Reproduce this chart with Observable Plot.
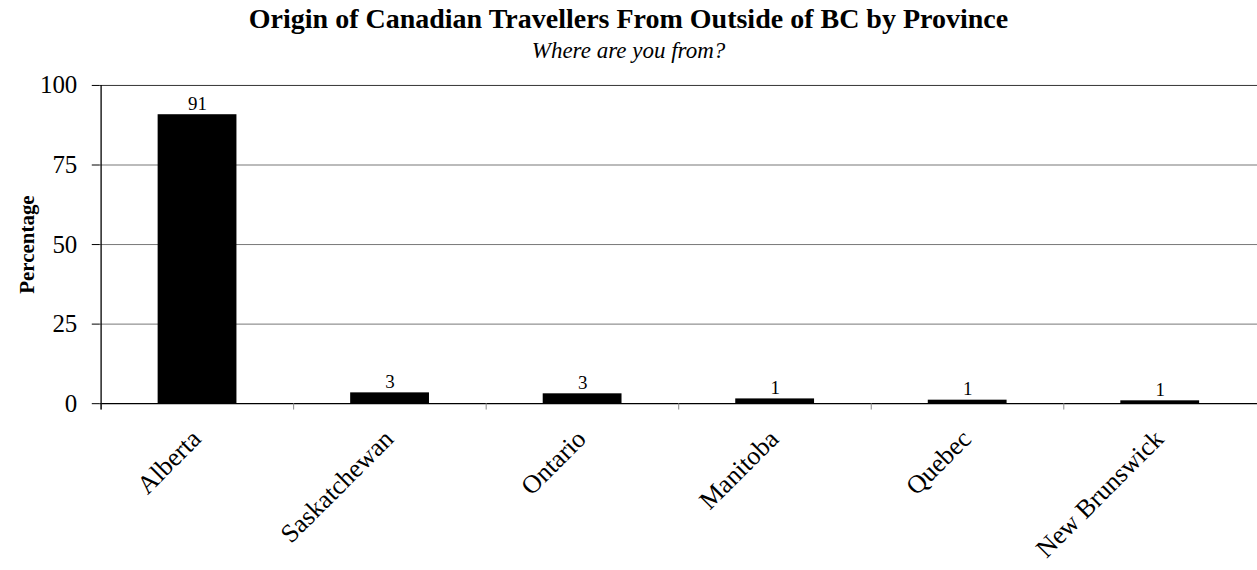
<!DOCTYPE html>
<html>
<head>
<meta charset="utf-8">
<script src="https://cdn.jsdelivr.net/npm/d3@7"></script>
<script src="https://cdn.jsdelivr.net/npm/@observablehq/plot@0.6"></script>
<style>
  html, body { margin: 0; padding: 0; background: #fff; overflow: hidden; }
  #wrap { position: relative; width: 1257px; height: 570px; overflow: hidden; font-family: "Liberation Serif", serif; }
  #header { position: relative; height: 62px; }
  #title { position: absolute; left: 0; width: 1257px; top: 3px; text-align: center; font-weight: bold; font-size: 28px; line-height: 32px; color: #000; white-space: nowrap; }
  #subtitle { position: absolute; left: 0; width: 1257px; top: 38px; text-align: center; font-style: italic; font-size: 23px; line-height: 26px; color: #000; white-space: nowrap; }
  #chart svg { display: block; }
</style>
</head>
<body>
<div id="wrap">
  <div id="header">
    <div id="title">Origin of Canadian Travellers From Outside of BC by Province</div>
    <div id="subtitle">Where are you from?</div>
  </div>
  <div id="chart"></div>
</div>
<script>
const provinces = ["Alberta", "Saskatchewan", "Ontario", "Manitoba", "Quebec", "New Brunswick"];
const percentages = [90.8, 3.4, 3.1, 1.5, 1.1, 0.9];
const valueLabels = ["91", "3", "3", "1", "1", "1"];
const yTicks = [0, 25, 50, 75, 100];
const gridValues = [25, 50, 75, 100];
const yLabel = "Percentage";

const data = provinces.map((p, i) => ({province: p, pct: percentages[i], label: valueLabels[i]}));
const step = 1160 / provinces.length;

const chart = Plot.plot({
  width: 1260,
  height: 508,
  marginLeft: 100,
  marginRight: 0,
  marginTop: 23,
  marginBottom: 166,
  style: {fontFamily: "'Liberation Serif', serif", color: "#000", background: "#fff"},
  x: {type: "band", domain: provinces, paddingInner: 0.59, paddingOuter: 0.295, axis: null},
  y: {domain: [0, 100], axis: null},
  marks: [
    Plot.ruleY(gridValues, {stroke: d => d === 100 ? "#333" : "#777", strokeWidth: 1}),
    Plot.barY(data, {x: "province", y: "pct", fill: "#000"}),
    Plot.ruleY([0], {stroke: "#000", strokeWidth: 1.3}),
    Plot.ruleX(provinces, {x: d => d, dx: -step / 2, y1: 0, y2: -2, stroke: "#888"}),
    Plot.ruleX([provinces[0]], {x: d => d, dx: -step / 2, y1: -2, y2: 100, stroke: "#000", strokeWidth: 1.3}),
    Plot.axisY({ticks: yTicks, tickSize: 8, tickPadding: 15, fontSize: 25, label: null, stroke: "#000"}),
    Plot.text(data, {x: "province", y: "pct", text: "label", dy: -5, lineAnchor: "bottom", fontSize: 19, fill: "#000"}),
    Plot.text(data, {x: "province", y: 0, text: "province", rotate: -45, textAnchor: "end", dx: -1, dy: 31, fontSize: 26, fill: "#000"}),
    Plot.text([yLabel], {frameAnchor: "left", textAnchor: "middle", dx: -73, rotate: -90, fontWeight: "bold", fontSize: 21, fill: "#000"})
  ]
});
document.getElementById("chart").appendChild(chart);
</script>
</body>
</html>
